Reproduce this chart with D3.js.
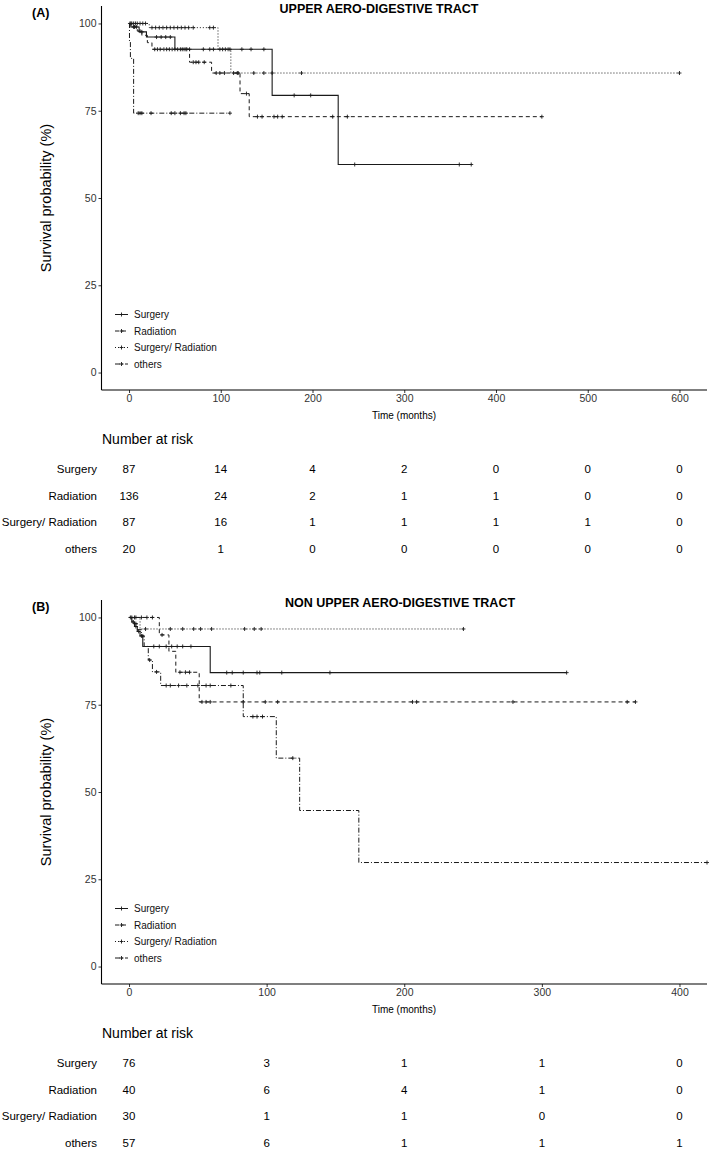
<!DOCTYPE html>
<html>
<head>
<meta charset="utf-8">
<script src="https://cdn.jsdelivr.net/npm/d3@7"></script>
<style>
  html, body { margin: 0; padding: 0; background: #fff; }
  svg { display: block; font-family: "Liberation Sans", Arial, Helvetica, sans-serif; }
</style>
</head>
<body>
<svg id="chart" width="709" height="1154"></svg>
<script>
// ---------------- DATA ----------------
const categories = ["Surgery", "Radiation", "Surgery/ Radiation", "others"];

// Panel A: UPPER AERO-DIGESTIVE TRACT
const aSurgeryTimes   = [0, 2, 11, 19, 50, 156, 228];
const aSurgerySurv    = [100, 99, 97.6, 96.1, 92.6, 79.4, 59.6];
const aSurgeryEnd     = 373;
const aSurgeryCensor  = [5, 8, 14, 30, 35, 40, 45, 58, 62, 66, 81, 88, 92, 110, 123, 133, 147, 180, 198, 246, 360, 373];

const aRadiationTimes  = [0, 3, 9, 14, 20, 25, 66, 90, 121, 131];
const aRadiationSurv   = [100, 99, 97.8, 96.6, 94.5, 92.6, 88.9, 85.8, 79.9, 73.3];
const aRadiationEnd    = 450;
const aRadiationCensor = [2, 6, 12, 28, 31, 34, 38, 41, 44, 47, 50, 53, 56, 60, 63, 70, 73, 76, 82, 95, 99, 104, 114, 119, 128, 140, 145, 158, 162, 167, 222, 238, 450];

const aSurgRadTimes  = [0, 22, 97, 111];
const aSurgRadSurv   = [100, 98.8, 92.6, 85.8];
const aSurgRadEnd    = 600;
const aSurgRadCensor = [1, 3, 5, 7, 9, 12, 15, 18, 25, 29, 33, 37, 41, 45, 49, 53, 57, 61, 65, 70, 88, 92, 99, 102, 105, 108, 118, 136, 147, 156, 188, 600];

const aOthersTimes  = [0, 0.5, 1.5, 5];
const aOthersSurv   = [100, 95, 90, 74.3];
const aOthersEnd    = 110;
const aOthersCensor = [10, 12, 14, 24, 46, 50, 56, 60, 62, 110];

const aRiskTimes = [0, 100, 200, 300, 400, 500, 600];
const aRiskSurgery   = [87, 14, 4, 2, 0, 0, 0];
const aRiskRadiation = [136, 24, 2, 1, 1, 0, 0];
const aRiskSurgRad   = [87, 16, 1, 1, 1, 1, 0];
const aRiskOthers    = [20, 1, 0, 0, 0, 0, 0];

// Panel B: NON UPPER AERO-DIGESTIVE TRACT
const bSurgeryTimes  = [0, 2, 4, 6, 8, 10, 59];
const bSurgerySurv   = [100, 98.7, 97.4, 96, 94.7, 91.7, 84.2];
const bSurgeryEnd    = 318;
const bSurgeryCensor = [3, 5, 7, 9, 18, 22, 27, 31, 35, 39, 45, 71, 75, 83, 93, 95, 111, 146, 318];

const bRadiationTimes  = [0, 22, 29, 34, 51];
const bRadiationSurv   = [100, 95, 90.3, 84.3, 75.8];
const bRadiationEnd    = 368;
const bRadiationCensor = [4, 9, 13, 17, 24, 37, 41, 44, 53, 56, 59, 83, 99, 108, 206, 209, 279, 362, 368];

const bSurgRadTimes  = [0, 8];
const bSurgRadSurv   = [100, 96.7];
const bSurgRadEnd    = 243;
const bSurgRadCensor = [2, 5, 12, 30, 39, 47, 52, 60, 84, 91, 96, 243];

const bOthersTimes  = [0, 3, 6, 9, 11, 14, 17, 23, 83, 107, 124, 167];
const bOthersSurv   = [100, 98.2, 96.5, 94.7, 91.7, 87.8, 84.4, 80.5, 71.6, 59.7, 44.7, 29.8];
const bOthersEnd    = 420;
const bOthersCensor = [1, 5, 10, 15, 20, 27, 30, 36, 42, 50, 56, 59, 74, 90, 93, 97, 119, 420];

const bRiskTimes = [0, 100, 200, 300, 400];
const bRiskSurgery   = [76, 3, 1, 1, 0];
const bRiskRadiation = [40, 6, 4, 1, 0];
const bRiskSurgRad   = [30, 1, 1, 0, 0];
const bRiskOthers    = [57, 6, 1, 1, 1];

const yTicks = [0, 25, 50, 75, 100];
const aXTicks = [0, 100, 200, 300, 400, 500, 600];
const bXTicks = [0, 100, 200, 300, 400];

// ---------------- STYLE ----------------
const dashes = [null, "4,3", "1,2", "5,2,1,2"];
const ink = "#1a1a1a";

const svg = d3.select("#chart");

function drawPanel(cfg) {
  const g = svg.append("g");
  const x = d3.scaleLinear().domain(cfg.xDomain).range([101.5, 707]);
  const y = d3.scaleLinear().domain([-5, 105]).range([cfg.yBottom, cfg.yBottom - 384]);

  // panel label & title
  g.append("text").attr("x", 32).attr("y", cfg.yBottom - 373.5)
    .attr("font-size", 12.5).attr("font-weight", "bold").attr("fill", "#000").text(cfg.label);
  g.append("text").attr("x", cfg.titleX).attr("y", cfg.yBottom - 377.5)
    .attr("text-anchor", "middle").attr("font-size", 12.5).attr("font-weight", "bold")
    .attr("fill", "#000").text(cfg.title);

  // axes
  const yAxis = d3.axisLeft(y).tickValues(yTicks).tickSize(3).tickPadding(2);
  const ya = g.append("g").attr("transform", "translate(101.5,0)").call(yAxis);
  ya.select(".domain").remove();
  ya.append("line").attr("x1", 0).attr("x2", 0).attr("y1", y(105)).attr("y2", y(-5))
    .attr("stroke", "#000").attr("stroke-width", 1.1);
  ya.selectAll(".tick line").attr("stroke", "#333");
  ya.selectAll(".tick text").attr("font-size", 10.5).attr("fill", "#333")
    .attr("font-family", "Liberation Sans, Arial, sans-serif");

  const xAxis = d3.axisBottom(x).tickValues(cfg.xTicks).tickSize(3).tickPadding(2);
  const xa = g.append("g").attr("transform", `translate(0,${cfg.yBottom})`).call(xAxis);
  xa.select(".domain").remove();
  xa.append("line").attr("x1", 101.5).attr("x2", 707).attr("y1", 0).attr("y2", 0)
    .attr("stroke", "#000").attr("stroke-width", 1.1);
  xa.selectAll(".tick line").attr("stroke", "#333");
  xa.selectAll(".tick text").attr("font-size", 10.5).attr("fill", "#333")
    .attr("font-family", "Liberation Sans, Arial, sans-serif");

  g.append("text").attr("x", 404).attr("y", cfg.yBottom + 29)
    .attr("text-anchor", "middle").attr("font-size", 10).attr("fill", "#000").text("Time (months)");
  g.append("text").attr("transform", `translate(51,${cfg.yBottom - 192}) rotate(-90)`)
    .attr("text-anchor", "middle").attr("font-size", 14.5).attr("fill", "#000")
    .text("Survival probability (%)");

  // curves
  cfg.series.forEach((s, i) => {
    const pts = [];
    s.times.forEach((t, k) => {
      if (k > 0) pts.push([t, s.surv[k - 1]]);
      pts.push([t, s.surv[k]]);
    });
    pts.push([s.end, s.surv[s.surv.length - 1]]);
    const line = d3.line().x(d => x(d[0])).y(d => y(d[1]));
    g.append("path").attr("d", line(pts)).attr("fill", "none")
      .attr("stroke", ink).attr("stroke-width", i === 0 ? 1.1 : 1)
      .attr("stroke-dasharray", dashes[i]);
    const survAt = t => {
      let v = s.surv[0];
      s.times.forEach((tt, k) => { if (tt <= t) v = s.surv[k]; });
      return v;
    };
    s.censor.forEach(t => {
      const cx = x(t), cy = y(survAt(t));
      g.append("path").attr("d", `M${cx - 2},${cy}H${cx + 2}M${cx},${cy - 2}V${cy + 2}`)
        .attr("stroke", ink).attr("stroke-width", 0.9).attr("fill", "none");
    });
  });

  // legend
  const legY0 = cfg.yBottom - 75.5;
  categories.forEach((c, i) => {
    const ly = legY0 + i * 16.5;
    g.append("line").attr("x1", 115).attr("x2", 128).attr("y1", ly).attr("y2", ly)
      .attr("stroke", ink).attr("stroke-width", 1).attr("stroke-dasharray", dashes[i]);
    g.append("path").attr("d", `M${119.5},${ly}H${123.5}M${121.5},${ly - 2}V${ly + 2}`)
      .attr("stroke", ink).attr("stroke-width", 0.9);
    g.append("text").attr("x", 134).attr("y", ly + 3.5).attr("font-size", 10)
      .attr("fill", "#111").text(c);
  });

  // risk table
  g.append("text").attr("x", 102).attr("y", cfg.yBottom + 54)
    .attr("font-size", 14).attr("fill", "#000").text("Number at risk");
  cfg.risk.forEach((row, i) => {
    const ry = cfg.yBottom + 79 + i * 26.7 + 4;
    g.append("text").attr("x", 97).attr("y", ry).attr("text-anchor", "end")
      .attr("font-size", 11.5).attr("fill", "#000").text(categories[i]);
    row.forEach((v, k) => {
      g.append("text").attr("x", x(cfg.riskTimes[k])).attr("y", ry).attr("text-anchor", "middle")
        .attr("font-size", 11.5).attr("fill", "#000").text(v);
    });
  });
}

drawPanel({
  label: "(A)", title: "UPPER AERO-DIGESTIVE TRACT", titleX: 379,
  xDomain: [-30, 630], xTicks: aXTicks, yBottom: 390,
  series: [
    { times: aSurgeryTimes, surv: aSurgerySurv, end: aSurgeryEnd, censor: aSurgeryCensor },
    { times: aRadiationTimes, surv: aRadiationSurv, end: aRadiationEnd, censor: aRadiationCensor },
    { times: aSurgRadTimes, surv: aSurgRadSurv, end: aSurgRadEnd, censor: aSurgRadCensor },
    { times: aOthersTimes, surv: aOthersSurv, end: aOthersEnd, censor: aOthersCensor }
  ],
  risk: [aRiskSurgery, aRiskRadiation, aRiskSurgRad, aRiskOthers], riskTimes: aRiskTimes
});

drawPanel({
  label: "(B)", title: "NON UPPER AERO-DIGESTIVE TRACT", titleX: 400,
  xDomain: [-20, 420], xTicks: bXTicks, yBottom: 984,
  series: [
    { times: bSurgeryTimes, surv: bSurgerySurv, end: bSurgeryEnd, censor: bSurgeryCensor },
    { times: bRadiationTimes, surv: bRadiationSurv, end: bRadiationEnd, censor: bRadiationCensor },
    { times: bSurgRadTimes, surv: bSurgRadSurv, end: bSurgRadEnd, censor: bSurgRadCensor },
    { times: bOthersTimes, surv: bOthersSurv, end: bOthersEnd, censor: bOthersCensor }
  ],
  risk: [bRiskSurgery, bRiskRadiation, bRiskSurgRad, bRiskOthers], riskTimes: bRiskTimes
});
</script>
</body>
</html>
